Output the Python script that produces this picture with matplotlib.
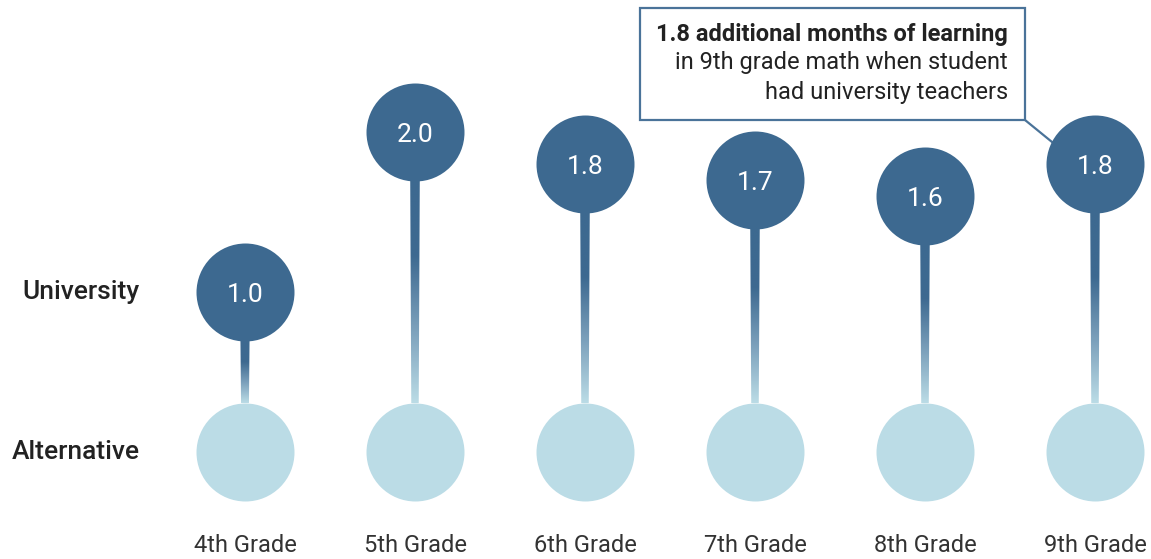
import numpy as np
import matplotlib.pyplot as plt
from matplotlib.patches import Polygon, Rectangle
from matplotlib.colors import LinearSegmentedColormap

plt.rcParams['font.family'] = ['Roboto', 'DejaVu Sans']

# Months of learning by grade
grades = ["4th Grade", "5th Grade", "6th Grade", "7th Grade", "8th Grade", "9th Grade"]
university = [1.0, 2.0, 1.8, 1.7, 1.6, 1.8]
alternative = [0, 0, 0, 0, 0, 0]
rows = ["University", "Alternative"]

dark = "#3d6990"
light = "#bbdce6"
grad = LinearSegmentedColormap.from_list("stem", [light, "#7ba0bb", dark, dark])

fig = plt.figure(figsize=(11.51, 5.59), dpi=100)
ax = fig.add_axes([0, 0, 1, 1])
ax.set_xlim(-245 / 170, (1151 - 245) / 170)
ax.set_ylim((452 - 559) / 160, 452 / 160)
ax.axis("off")

x = np.arange(len(grades))
r_y = 49 / 160  # circle radius in y units

# tapered stems with a dark-to-light gradient
for xi, top, bot in zip(x, university, alternative):
    w_top, w_bot = 10 / 170 / 2, 7 / 170 / 2
    poly = Polygon([(xi - w_top, top), (xi + w_top, top),
                    (xi + w_bot, bot), (xi - w_bot, bot)],
                   closed=True, facecolor="none", edgecolor="none")
    ax.add_patch(poly)
    g = np.linspace(0, 1, 256).reshape(-1, 1)
    im = ax.imshow(g, cmap=grad, aspect="auto", origin="lower",
                   extent=(xi - w_top, xi + w_top, bot + r_y, top - r_y),
                   zorder=1, interpolation="bilinear")
    im.set_clip_path(poly)

# circle diameter in points
s = (2 * 49 * 0.72) ** 2
ax.scatter(x, alternative, s=s, color=light, zorder=2, linewidths=0)
ax.scatter(x, university, s=s, color=dark, zorder=3, linewidths=0)

for xi, v in zip(x, university):
    ax.text(xi, v, f"{v:.1f}", color="white", fontsize=19,
            ha="center", va="center_baseline", zorder=4)

for xi, g_label in zip(x, grades):
    ax.text(xi, (452 - 545) / 160, g_label, color="#333333", fontsize=17,
            ha="center", va="center")

lx = -245 / 170 + 140 / 170
ax.text(lx, university[0], rows[0], color="#222222",
        fontsize=19, fontweight="medium", ha="right", va="center")
ax.text(lx, 0, rows[1], color="#222222",
        fontsize=19, fontweight="medium", ha="right", va="center")

# callout box for the 9th grade result
def px(xp, yp):
    return ((xp - 245) / 170, (452 - yp) / 160)

x0, y0 = px(640, 120)
x1, y1 = px(1025, 8)
ax.add_patch(Rectangle((x0, y0), x1 - x0, y1 - y0, facecolor="white",
                       edgecolor="#4a7399", linewidth=1.6, zorder=5))
cx, cy = px(1052, 142)
ax.plot([x1, cx], [y0, cy], color="#4a7399", linewidth=1.6, zorder=2)

tx = px(1008, 0)[0]
ax.text(tx, px(0, 34)[1], "1.8 additional months of learning", fontsize=17,
        fontweight="bold", color="#222222", ha="right", va="center", zorder=6)
ax.text(tx, px(0, 63)[1], "in 9th grade math when student", fontsize=17,
        color="#222222", ha="right", va="center", zorder=6)
ax.text(tx, px(0, 93)[1], "had university teachers", fontsize=17,
        color="#222222", ha="right", va="center", zorder=6)

fig.savefig("out.png", dpi=100)
